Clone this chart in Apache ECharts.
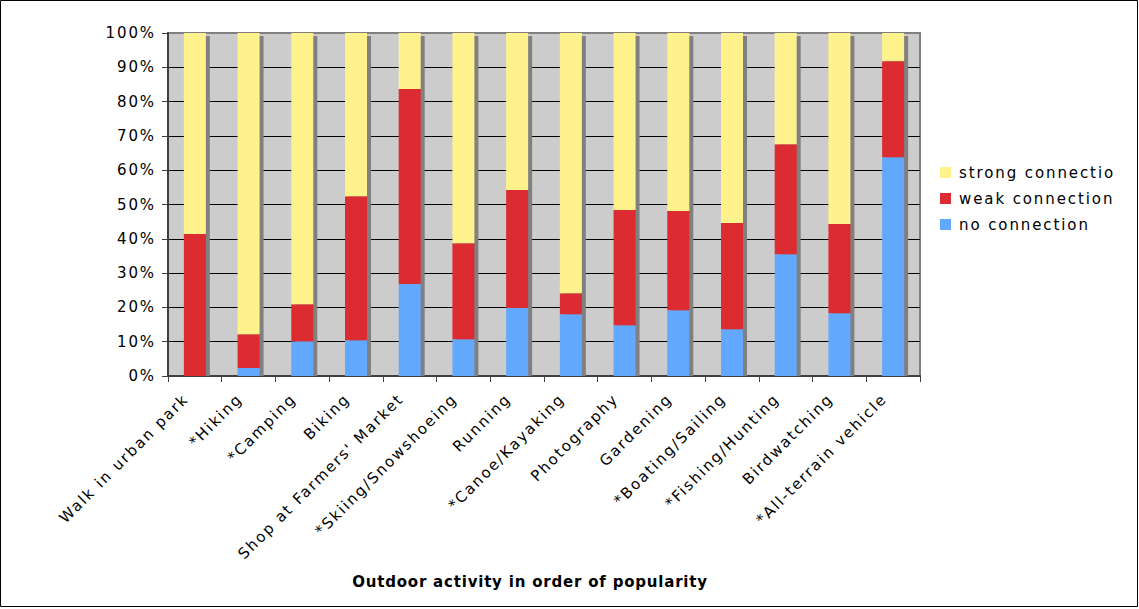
<!DOCTYPE html>
<html>
<head>
<meta charset="utf-8">
<title>Connection to nature by outdoor activity</title>
<script src="https://cdn.jsdelivr.net/npm/echarts@6/dist/echarts.min.js"></script>
<style>
  html, body { margin: 0; padding: 0; background: #fff; }
  #chart { width: 1139px; height: 609px; }
  /* Verdana-style wide letter spacing */
  #chart text { letter-spacing: 1.9px; }
  #chart text[style*="bold"] { letter-spacing: 0.8px; }
</style>
</head>
<body>
<div id="chart"></div>
<script>
// Outdoor activities, in order of popularity
const activities = [
  'Walk in urban park', '*Hiking', '*Camping', 'Biking', "Shop at Farmers' Market",
  '*Skiing/Snowshoeing', 'Running', '*Canoe/Kayaking', 'Photography', 'Gardening',
  '*Boating/Sailing', '*Fishing/Hunting', 'Birdwatching', '*All-terrain vehicle'
];

// Share of participants (%) per level of connection
const noConnection     = [0.0, 2.3, 10.1, 10.4, 26.8, 10.7, 19.8, 18.0, 14.8, 19.2, 13.6, 35.5, 18.3, 63.8];
const weakConnection   = [41.4, 9.9, 10.8, 42.0, 56.9, 28.0, 34.4, 6.1, 33.6, 28.9, 31.0, 32.1, 26.0, 28.0];
const strongConnection = [58.6, 87.8, 79.1, 47.6, 16.3, 61.3, 45.8, 75.9, 51.6, 51.9, 55.4, 32.4, 55.7, 8.2];

const seriesNames = ['strong connection', 'weak connection', 'no connection'];
const axisTitle = 'Outdoor activity in order of popularity';

const FONT = 'DejaVu Sans';
const FONT_SIZE = 15;
const BAR_W = 22;

// column totals for the drop shadow behind each stack
const totals = activities.map((_, i) => [i, noConnection[i] + weakConnection[i] + strongConnection[i]]);

const chart = echarts.init(document.getElementById('chart'), null, { renderer: 'svg' });

chart.setOption({
  animation: false,
  backgroundColor: '#ffffff',
  grid: {
    left: 168, top: 33, right: 219, bottom: 233,
    show: true,
    backgroundColor: '#cccccc',
    borderColor: '#808080',
    borderWidth: 2
  },
  title: {
    text: axisTitle,
    left: 525,
    top: 569,
    textAlign: 'center',
    textStyle: { fontFamily: FONT, fontSize: FONT_SIZE, fontWeight: 'bold', color: '#000' }
  },
  legend: {
    orient: 'vertical',
    left: 935,
    top: 160,
    icon: 'rect',
    itemWidth: 11,
    itemHeight: 11,
    itemGap: 11,
    textStyle: { fontFamily: FONT, fontSize: FONT_SIZE, color: '#000', padding: [0, 0, 0, 3] },
    data: [
      { name: seriesNames[0], textStyle: { width: 130, overflow: 'truncate', ellipsis: '' } },
      seriesNames[1],
      seriesNames[2]
    ]
  },
  xAxis: {
    type: 'category',
    data: activities,
    axisLine: { lineStyle: { color: '#404040', width: 2 } },
    axisTick: { show: true, length: 6, lineStyle: { color: '#404040', width: 1 } },
    axisLabel: {
      interval: 0,
      rotate: 45,
      margin: 25,
      verticalAlign: 'bottom',
      padding: [0, 3, 2, 0],
      fontFamily: FONT,
      fontSize: FONT_SIZE,
      color: '#000'
    },
    splitLine: { show: false }
  },
  yAxis: {
    type: 'value',
    min: 0,
    max: 100,
    interval: 10,
    axisLine: { show: true, lineStyle: { color: '#404040', width: 2 } },
    axisTick: { show: true, length: 6, lineStyle: { color: '#404040', width: 1 } },
    axisLabel: {
      margin: 12,
      fontFamily: FONT,
      fontSize: FONT_SIZE,
      color: '#000',
      formatter: '{value}%'
    },
    splitLine: { show: true, showMinLine: false, showMaxLine: false, lineStyle: { color: '#000', width: 1 } }
  },
  series: [
    {
      type: 'custom',
      coordinateSystem: 'cartesian2d',
      silent: true,
      encode: { x: 0, y: 1 },
      data: totals,
      renderItem: function (params, api) {
        const top = api.coord([api.value(0), api.value(1)]);
        const base = api.coord([api.value(0), 0]);
        return {
          type: 'rect',
          shape: {
            x: top[0] - BAR_W / 2 + 4,
            y: top[1] + 3,
            width: BAR_W,
            height: base[1] - top[1] - 3
          },
          style: { fill: '#808080' }
        };
      }
    },
    {
      name: seriesNames[2], type: 'bar', stack: 'share', barWidth: BAR_W,
      itemStyle: { color: '#63a8ff' }, data: noConnection
    },
    {
      name: seriesNames[1], type: 'bar', stack: 'share', barWidth: BAR_W,
      itemStyle: { color: '#dd2b32' }, data: weakConnection
    },
    {
      name: seriesNames[0], type: 'bar', stack: 'share', barWidth: BAR_W,
      itemStyle: { color: '#fff28c' }, data: strongConnection
    }
  ],
  graphic: [
    {
      type: 'rect',
      silent: true,
      z: 100,
      shape: { x: 0.5, y: 0.5, width: 1137, height: 606 },
      style: { fill: 'none', stroke: '#000', lineWidth: 1 }
    }
  ]
});
</script>
</body>
</html>
